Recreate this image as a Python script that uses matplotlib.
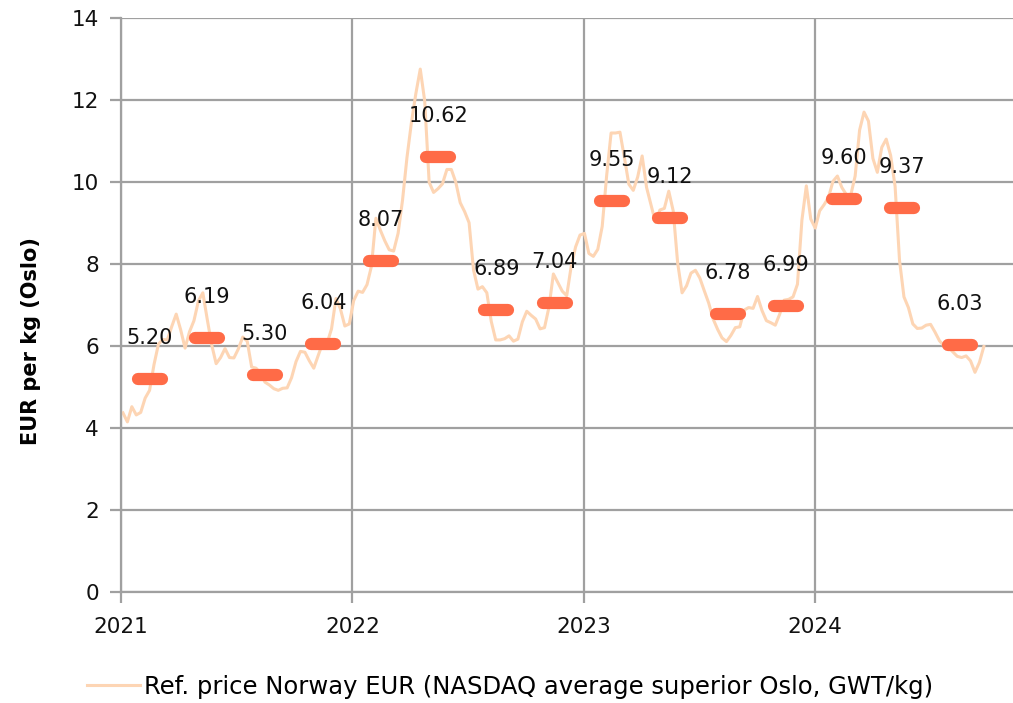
import numpy as np
import pandas as pd
import matplotlib
matplotlib.use("Agg")
import matplotlib.pyplot as plt
import matplotlib.dates as mdates

plt.rcParams['font.family'] = ['DejaVu Sans']

# weekly reference price, EUR/kg, from first week of 2021
weekly_price = [
    4.37, 4.15, 4.52, 4.32, 4.38, 4.73, 4.92, 5.55, 6.05, 6.16,
    6.15, 6.48, 6.78, 6.40, 5.95, 6.35, 6.62, 7.10, 7.30, 6.65,
    6.03, 5.57, 5.72, 5.94, 5.72, 5.71, 5.93, 6.22, 6.12, 5.49,
    5.46, 5.34, 5.12, 5.05, 4.96, 4.92, 4.97, 4.98, 5.23, 5.62,
    5.87, 5.85, 5.64, 5.46, 5.77, 6.07, 6.07, 6.42, 7.16, 6.91,
    6.49, 6.54, 7.11, 7.34, 7.31, 7.50, 7.95, 9.12, 8.83, 8.57,
    8.35, 8.32, 8.75, 9.56, 10.60, 11.45, 12.16, 12.76, 11.98, 10.00,
    9.75, 9.84, 9.96, 10.31, 10.31, 10.00, 9.50, 9.28, 9.01, 7.86,
    7.39, 7.45, 7.30, 6.60, 6.15, 6.15, 6.18, 6.25, 6.12, 6.17,
    6.59, 6.85, 6.75, 6.66, 6.42, 6.45, 6.95, 7.76, 7.55, 7.34,
    7.23, 7.94, 8.42, 8.71, 8.75, 8.26, 8.19, 8.36, 8.92, 10.16,
    11.20, 11.20, 11.22, 10.60, 9.95, 9.80, 10.13, 10.64, 9.87, 9.44,
    9.02, 9.32, 9.36, 9.78, 9.30, 8.03, 7.30, 7.47, 7.78, 7.85,
    7.66, 7.35, 7.05, 6.66, 6.41, 6.20, 6.11, 6.26, 6.45, 6.47,
    6.88, 6.94, 6.92, 7.21, 6.87, 6.62, 6.57, 6.51, 6.78, 7.12,
    7.14, 7.20, 7.51, 9.07, 9.91, 9.10, 8.88, 9.30, 9.45, 9.63,
    10.02, 10.15, 9.87, 9.70, 9.68, 10.15, 11.27, 11.71, 11.49, 10.58,
    10.24, 10.85, 11.05, 10.65, 9.90, 8.09, 7.20, 6.94, 6.54, 6.43,
    6.44, 6.51, 6.53, 6.34, 6.13, 6.01, 5.98, 5.86, 5.75, 5.72,
    5.76, 5.64, 5.36, 5.60, 5.99,
]
weeks = pd.date_range("2021-01-04", periods=len(weekly_price), freq="7D")

# quarterly averages
quarters = ["2021Q1", "2021Q2", "2021Q3", "2021Q4",
            "2022Q1", "2022Q2", "2022Q3", "2022Q4",
            "2023Q1", "2023Q2", "2023Q3", "2023Q4",
            "2024Q1", "2024Q2", "2024Q3"]
quarter_avg = [5.20, 6.19, 5.30, 6.04,
               8.07, 10.62, 6.89, 7.04,
               9.55, 9.12, 6.78, 6.99,
               9.60, 9.37, 6.03]

line_col = "#FDD5B4"
bar_col = "#FF6B47"
grid_col = "#A0A0A0"

fig = plt.figure(figsize=(10.13, 7.03), dpi=100)
ax = fig.add_axes([0.1195, 0.158, 0.8805, 0.816])

ax.plot(weeks, weekly_price, color=line_col, lw=2.2, zorder=2,
        label="Ref. price Norway EUR (NASDAQ average superior Oslo, GWT/kg)")

for q, v in zip(quarters, quarter_avg):
    p = pd.Period(q, freq="Q")
    mid = p.start_time + (p.end_time - p.start_time) / 2
    half = pd.Timedelta(days=19)
    ax.plot([mid - half, mid + half], [v, v], color=bar_col, lw=8.8,
            solid_capstyle="round", zorder=3)
    ax.text(mid, v + 1.0, f"{v:.2f}", ha="center", va="center",
            fontsize=15, color="#111111", zorder=4)

ax.set_ylim(0, 14)
ax.set_yticks(range(0, 15, 2))
ax.set_xlim(pd.Timestamp("2021-01-01"), pd.Timestamp("2024-11-08"))
ax.xaxis.set_major_locator(mdates.YearLocator())
ax.xaxis.set_major_formatter(mdates.DateFormatter("%Y"))

ax.grid(True, color=grid_col, lw=1.6, zorder=0)
for s in ["top", "right"]:
    ax.spines[s].set_visible(False)
for s in ["left", "bottom"]:
    ax.spines[s].set_color(grid_col)
    ax.spines[s].set_linewidth(1.6)
ax.tick_params(axis="both", colors=grid_col, width=1.6, length=8,
               labelsize=15.5, labelcolor="#111111")
ax.tick_params(axis="x", pad=10)
ax.tick_params(axis="y", pad=8)

ax.set_ylabel("EUR per kg (Oslo)", fontsize=15, fontweight="bold")
ax.yaxis.set_label_coords(-0.09, 0.437)

ax.legend(loc="center", bbox_to_anchor=(0.436, -0.165), frameon=False,
          fontsize=17.5, handlelength=2.2, handletextpad=0.15)

fig.savefig("out.png", dpi=100)
